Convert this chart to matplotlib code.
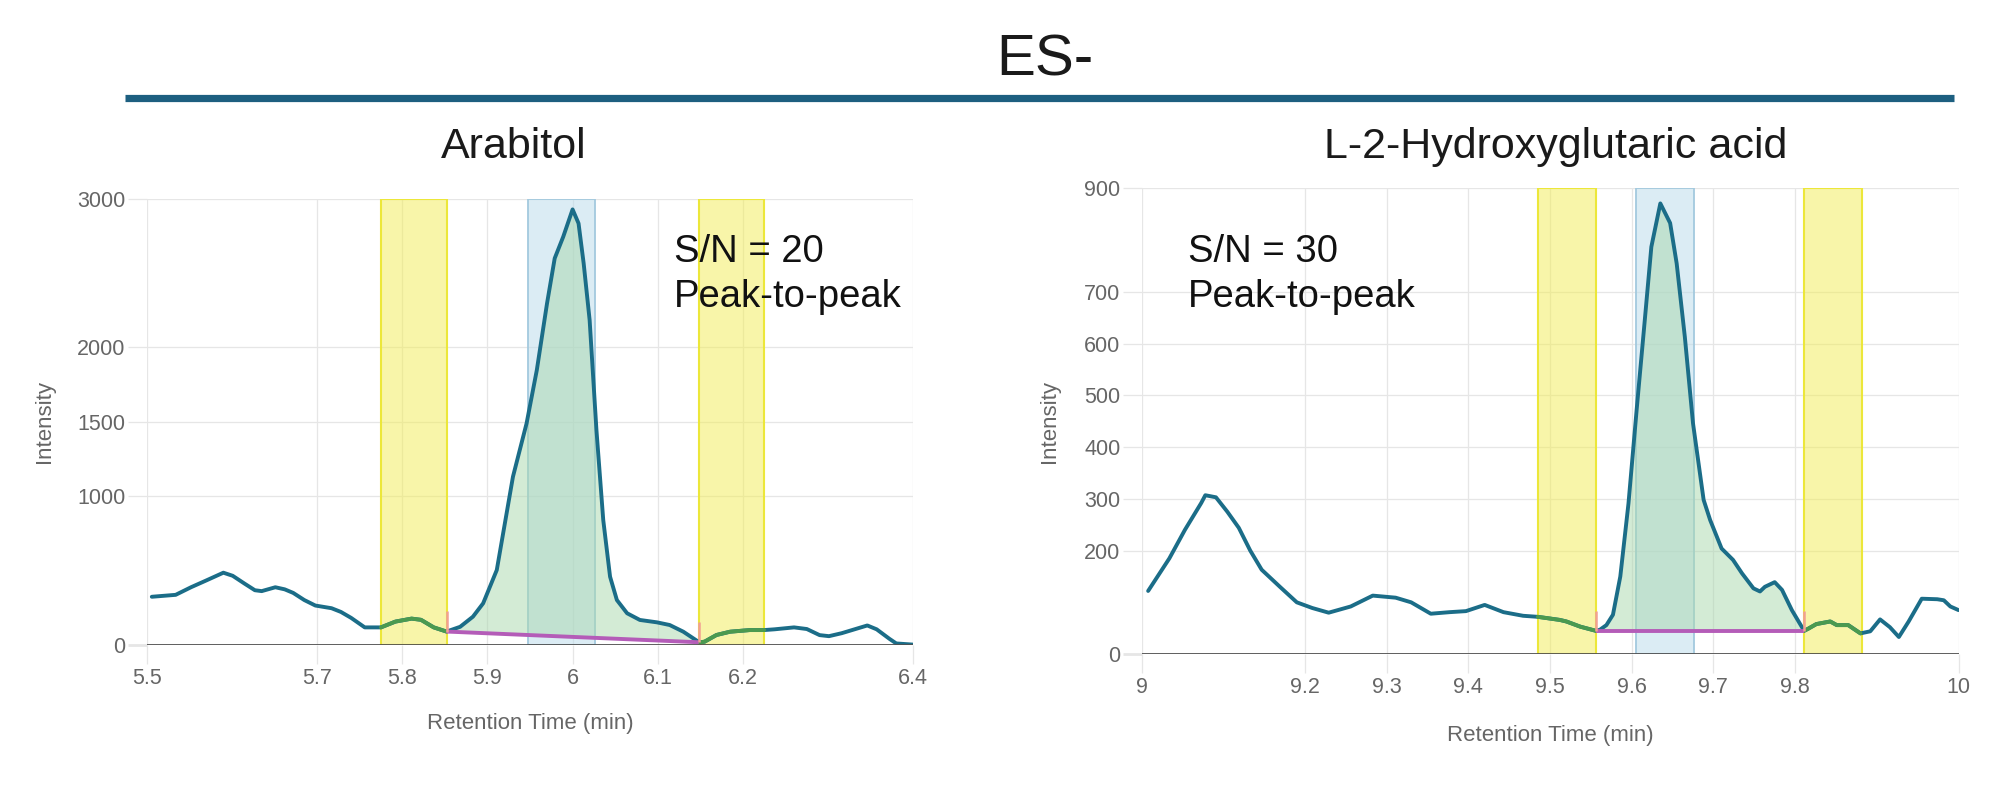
import numpy as np
import matplotlib
matplotlib.use('Agg')
import matplotlib.pyplot as plt
from matplotlib.lines import Line2D
from matplotlib.colors import to_rgba

plt.rcParams['font.family'] = ['Liberation Sans', 'DejaVu Sans']

# ---------------- data ----------------
main_title = "ES-"
titles = ["Arabitol", "L-2-Hydroxyglutaric acid"]
sn_texts = [["S/N = 20", "Peak-to-peak"], ["S/N = 30", "Peak-to-peak"]]

# Arabitol chromatogram
left_time = [5.506, 5.534, 5.552, 5.570, 5.590, 5.601, 5.615, 5.627, 5.635, 5.651,
             5.662, 5.672, 5.685, 5.698, 5.717, 5.728, 5.740, 5.756, 5.775, 5.792,
             5.811, 5.822, 5.837, 5.852, 5.868, 5.883, 5.895, 5.911, 5.930, 5.946,
             5.958, 5.970, 5.979, 5.989, 6.000, 6.007, 6.013, 6.020, 6.028, 6.036,
             6.044, 6.052, 6.064, 6.079, 6.099, 6.114, 6.130, 6.146, 6.150, 6.155,
             6.169, 6.185, 6.208, 6.225, 6.237, 6.260, 6.275, 6.290, 6.301, 6.316,
             6.331, 6.346, 6.357, 6.372, 6.380, 6.400]
left_intensity = [322, 335, 386, 432, 484, 463, 410, 366, 360, 386,
                  372, 348, 300, 263, 245, 220, 180, 116, 116, 155,
                  175, 167, 116, 88, 120, 188, 278, 502, 1130, 1489,
                  1847, 2296, 2599, 2744, 2928, 2834, 2565, 2184, 1444, 838,
                  457, 300, 211, 166, 150, 132, 87, 26, 16, 20,
                  65, 87, 98, 98, 103, 116, 105, 64, 57, 77,
                  103, 129, 103, 39, 8, 0]
left_noise_bands = [(5.775, 5.852), (6.148, 6.225)]
left_signal_band = (5.948, 6.026)
left_baseline_t = [5.852, 6.148]
left_baseline_y = [88, 16]
left_xticks = [5.5, 5.7, 5.8, 5.9, 6.0, 6.1, 6.2, 6.4]
left_xticklabels = ["5.5", "5.7", "5.8", "5.9", "6", "6.1", "6.2", "6.4"]
left_yticks = [0, 1000, 1500, 2000, 3000]

# L-2-Hydroxyglutaric acid chromatogram
right_time = [9.008, 9.034, 9.053, 9.073, 9.078, 9.091, 9.105, 9.119, 9.133, 9.147,
              9.170, 9.190, 9.209, 9.229, 9.256, 9.283, 9.311, 9.330, 9.354, 9.377,
              9.397, 9.420, 9.443, 9.467, 9.485, 9.512, 9.520, 9.537, 9.556, 9.561,
              9.569, 9.577, 9.586, 9.596, 9.606, 9.616, 9.624, 9.635, 9.647, 9.655,
              9.665, 9.675, 9.688, 9.696, 9.710, 9.724, 9.735, 9.749, 9.757, 9.763,
              9.775, 9.784, 9.796, 9.811, 9.816, 9.826, 9.843, 9.851, 9.865, 9.880,
              9.892, 9.904, 9.916, 9.927, 9.939, 9.955, 9.974, 9.982, 9.990, 10.0]
right_intensity = [122, 185, 240, 292, 307, 303, 275, 244, 200, 163,
                   129, 100, 89, 80, 92, 113, 109, 100, 78, 81,
                   83, 95, 81, 74, 72, 66, 63, 53, 45, 47,
                   56, 76, 150, 291, 472, 646, 787, 871, 833, 755,
                   613, 446, 298, 259, 204, 182, 156, 127, 121, 130,
                   139, 124, 85, 45, 49, 58, 63, 56, 56, 40,
                   44, 67, 52, 33, 63, 107, 106, 104, 92, 85]
right_noise_bands = [(9.485, 9.556), (9.811, 9.882)]
right_signal_band = (9.605, 9.676)
right_baseline_t = [9.556, 9.811]
right_baseline_y = [45, 45]
right_xticks = [9.0, 9.2, 9.3, 9.4, 9.5, 9.6, 9.7, 9.8, 10.0]
right_xticklabels = ["9", "9.2", "9.3", "9.4", "9.5", "9.6", "9.7", "9.8", "10"]
right_yticks = [0, 200, 300, 400, 500, 600, 700, 900]

# ---------------- styling ----------------
LINE_C = '#1b6d88'
GREEN_C = '#4b9a4f'
BASE_C = '#b45cb8'
MARK_C = '#f2a093'
GRID_C = '#e6e6e6'
TXT_C = '#666666'
ZERO_C = '#505050'

fig = plt.figure(figsize=(20, 7.87), dpi=100)
ax_l = fig.add_axes([0.07335, 0.1809, 0.3833, 0.5666])
ax_r = fig.add_axes([0.5708, 0.1689, 0.40845, 0.5917])


def draw(ax, t, y, xlim, ylim, xticks, xticklabels, yticks, noise_bands,
         signal_band, base_t, base_y, ylab_x, xlab_y, mark_frac):
    t = np.asarray(t, float)
    y = np.asarray(y, float)
    ax.set_xlim(xlim)
    ax.set_ylim(ylim)
    for s in ax.spines.values():
        s.set_visible(False)
    ax.set_xticks(xticks, xticklabels)
    ax.set_yticks(yticks, [str(v) for v in yticks])
    ax.grid(True, color=GRID_C, lw=0.9, zorder=0)
    ax.set_axisbelow(True)
    ax.tick_params(axis='both', length=13.7, width=0.9, color=GRID_C,
                   labelsize=15.5, labelcolor=TXT_C)
    ax.tick_params(axis='y', pad=1.5)
    ax.tick_params(axis='x', pad=3)
    zt = ax.yaxis.get_major_ticks()[0]
    zt.tick1line.set_color(ZERO_C)
    zt.tick1line.set_markeredgewidth(2.0)
    ax.axhline(0, color=ZERO_C, lw=2.0, zorder=6)

    # bands
    for lo, hi in noise_bands:
        ax.axvspan(lo, hi, facecolor=to_rgba('#f2ec54', 0.5),
                   edgecolor='#ece73a', lw=1.5, zorder=1)
    ax.axvspan(signal_band[0], signal_band[1], facecolor=to_rgba('#b9dbeb', 0.5),
               edgecolor='#a3c9de', lw=1.3, zorder=1)

    # peak area
    m = (t >= base_t[0] - 1e-9) & (t <= base_t[1] + 1e-9)
    bl = np.interp(t[m], base_t, base_y)
    ax.fill_between(t[m], y[m], bl, facecolor=to_rgba('#a9d8ad', 0.5), lw=0, zorder=2)

    # trace
    ax.plot(t, y, color=LINE_C, lw=2.8, zorder=4, solid_joinstyle='round',
            solid_capstyle='round')
    for lo, hi in noise_bands:
        mm = (t >= lo - 1e-9) & (t <= hi + 1e-9)
        ax.plot(t[mm], y[mm], color=GREEN_C, lw=2.8, zorder=5,
                solid_joinstyle='round', solid_capstyle='round')

    # baseline and its end markers
    ax.plot(base_t, base_y, color=BASE_C, lw=2.8, zorder=5, solid_capstyle='butt')
    h = mark_frac * (ylim[1] - ylim[0])
    ax.vlines(base_t, base_y, [b + h for b in base_y], color=MARK_C, lw=1.8, zorder=6)

    ax.set_ylabel('Intensity', fontsize=16, color=TXT_C, va='center')
    ax.yaxis.set_label_coords(ylab_x, 0.5)
    ax.set_xlabel('Retention Time (min)', fontsize=16, color=TXT_C, va='center')
    ax.xaxis.set_label_coords(0.5, xlab_y)


draw(ax_l, left_time, left_intensity, (5.5, 6.4), (0, 3000), left_xticks,
     left_xticklabels, left_yticks, left_noise_bands, left_signal_band,
     left_baseline_t, left_baseline_y, -0.1334, -0.1758, 0.045)
draw(ax_r, right_time, right_intensity, (9.0, 10.0), (0, 900), right_xticks,
     right_xticklabels, right_yticks, right_noise_bands, right_signal_band,
     right_baseline_t, right_baseline_y, -0.1129, -0.1744, 0.043)

# titles
fig.text(0.5225, 1 - 75 / 787, main_title, fontsize=42, ha='center', va='baseline', color='#1a1a1a')
fig.add_artist(Line2D([125 / 2000, 1954 / 2000], [1 - 97.7 / 787] * 2,
                      transform=fig.transFigure, color='#1d5f80', lw=5.2,
                      solid_capstyle='butt'))
fig.text(513.5 / 2000, 1 - 158.3 / 787, titles[0], fontsize=31, ha='center',
         va='baseline', color='#1a1a1a')
fig.text(1556 / 2000, 1 - 158.3 / 787, titles[1], fontsize=31, ha='center',
         va='baseline', color='#1a1a1a')

# S/N annotations
for x0, lines in [(674, sn_texts[0]), (1188, sn_texts[1])]:
    fig.text(x0 / 2000, 1 - 261.5 / 787, lines[0], fontsize=27.5, ha='left',
             va='baseline', color='#111111')
    fig.text(x0 / 2000, 1 - 306.8 / 787, lines[1], fontsize=27.5, ha='left',
             va='baseline', color='#111111')

fig.savefig('out.png', dpi=100, facecolor='white')
